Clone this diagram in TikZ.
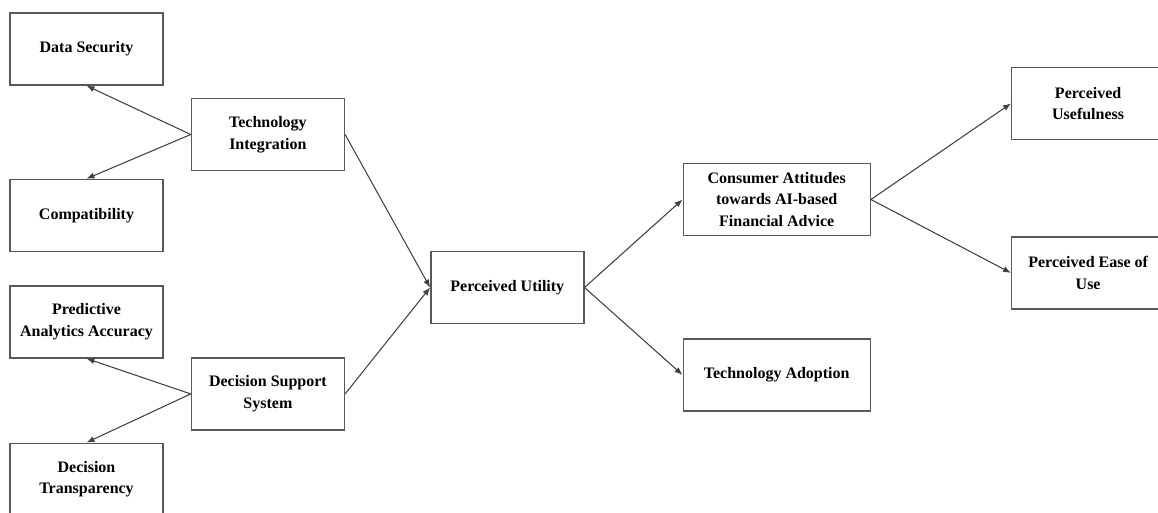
\documentclass[tikz,border=0pt]{standalone}
\usepackage{fontspec}
\setmainfont{Liberation Serif}
\usetikzlibrary{arrows.meta, positioning}

\begin{document}
\begin{tikzpicture}[box/.style={rectangle,draw=black!65,line width=0.8pt,minimum width=3.06cm,minimum height=1.44cm,align=center,font=\fontsize{9.1}{12.3}\selectfont\bfseries}, widebox/.style={box,minimum width=3.74cm}, link/.style={draw=black!75,line width=0.6pt,-{Latex[length=4.5pt,width=3.5pt]}}]
        \useasboundingbox (0,0) rectangle (23.16,-10.24);

        % left column
        \node[box] (ds) at (1.73,-0.98) {Data Security};
        \node[box, below=1.86cm of ds] (comp) {Compatibility};
        \node[box, below=0.66cm of comp] (pred) {Predictive\\Analytics Accuracy};
        \node[box, below=1.68cm of pred] (dt) {Decision\\Transparency};

        \node[box, right=0.54cm of ds, yshift=-1.71cm] (ti) {Technology\\Integration};
        \node[box, below=3.72cm of ti] (dss) {Decision Support\\System};

        \node[box, right=1.7cm of ti, yshift=-3.06cm] (pu) {Perceived Utility};

        % right side
        \node[widebox, right=1.96cm of pu, yshift=1.76cm] (ca) {Consumer Attitudes\\towards AI-based\\Financial Advice};
        \node[widebox, below=2.04cm of ca] (ta) {Technology Adoption};

        \node[box, right=2.8cm of ca, yshift=1.92cm] (puse) {Perceived\\Usefulness};
        \node[box, below=1.92cm of puse] (peu) {Perceived Ease of\\Use};

        \path[link] (ti.west) -- (ds.south);
        \path[link] (ti.west) -- (comp.north);
        \path[link] (dss.west) -- (pred.south);
        \path[link] (dss.west) -- (dt.north);
        \path[link] (ti.east) -- (pu.west);
        \path[link] (dss.east) -- (pu.west);
        \path[link] (pu.east) -- (ca.west);
        \path[link] (pu.east) -- (ta.west);
        \path[link] (ca.east) -- (puse.west);
        \path[link] (ca.east) -- (peu.west);
    \end{tikzpicture}
\end{document}
